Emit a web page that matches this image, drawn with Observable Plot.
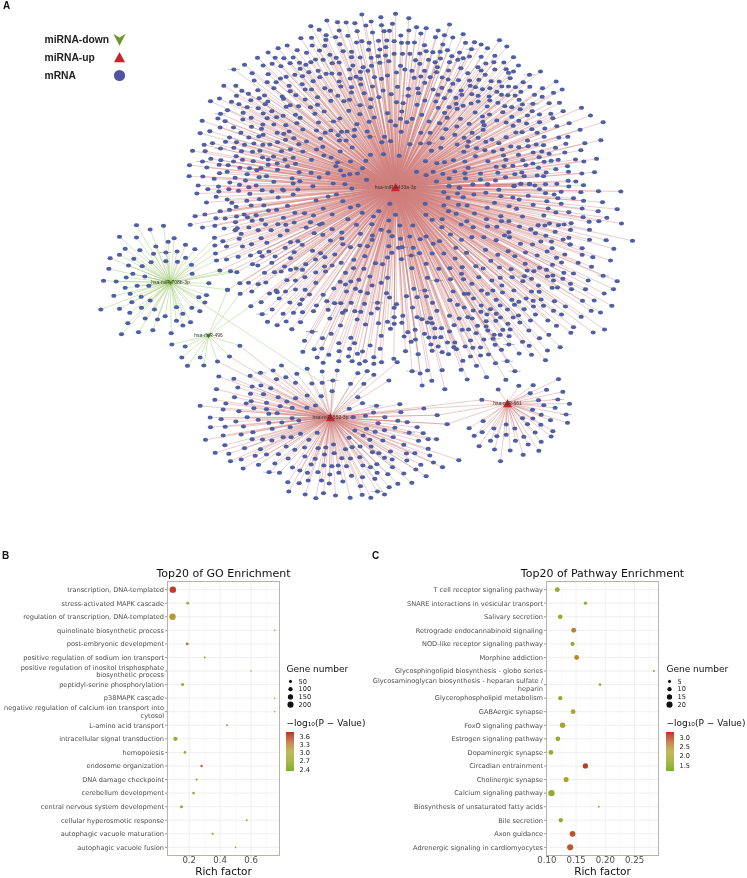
<!DOCTYPE html>
<html><head><meta charset="utf-8">
<script src="https://cdn.jsdelivr.net/npm/d3@7"></script>
<script src="https://cdn.jsdelivr.net/npm/@observablehq/plot@0.6"></script>
<style>
html,body{margin:0;padding:0;background:#fff}
#page{position:relative;width:747px;height:878px;overflow:hidden;font-family:"DejaVu Sans",sans-serif;filter:blur(.3px)}
#page svg{position:absolute;background:transparent;overflow:visible}
.tag{position:absolute;font:bold 10px "Liberation Sans",sans-serif;color:#111}
</style></head><body><div id="page">
<div class="tag" style="left:3px;top:0">A</div>
<div class="tag" style="left:2px;top:550px">B</div>
<div class="tag" style="left:372px;top:550px">C</div>
</div>
<script>
// ---------- Network: hubs ----------
const hubNames=["hsa-miR-4433a-3p","hsa-miR-552-3p","hsa-miR-661","hsa-miR-708b-3p","hsa-miR-496"];
const hubX=[395,330,507,170,208];
const hubY=[187,417,403,282,335];
const hubKind=["up","up","up","down","down"];
// mRNA node positions in crops (crop origin + 1/3 of crop reading)
const nwOrigin=[180,10];
const nodesNW=[544,12,645,10,601,20,439,30,471,35,497,36,523,38,572,33,636,40,391,47,556,45,603,44,416,58,476,60,530,62,576,66,611,62,627,61,502,76,437,74,436,88,393,82,361,83,465,80,544,92,566,97,594,91,619,90,641,92,528,96,478,101,433,106,395,105,320,105,293,113,350,119,378,127,417,120,488,122,448,133,513,124,564,118,616,110,598,117,641,130,263,126,231,142,284,142,310,143,338,141,405,147,428,148,467,142,513,140,539,141,572,142,593,137,615,135,275,160,192,163,248,165,301,167,329,158,357,157,376,163,391,155,455,158,476,156,517,165,548,170,573,166,598,157,625,152,160,177,215,188,263,191,343,193,359,175,385,185,413,181,437,190,454,189,477,190,507,177,540,184,562,181,582,200,603,205,621,195,648,186,527,199,221,210,260,215,300,204,317,199,366,197,398,212,418,200,476,213,509,204,540,205,576,228,130,226,166,226,287,215,326,226,365,221,433,233,481,228,513,230,541,222,608,240,651,229,184,241,232,239,280,233,329,242,374,237,393,237,450,241,551,248,632,251,204,250,168,256,117,264,252,255,305,258,346,254,411,260,472,256,513,246,90,272,153,274,211,269,236,263,262,273,309,265,374,267,451,271,490,272,507,268,571,266,595,260,175,281,254,281,329,284,411,283,539,284,648,275,200,290,141,299,233,293,274,302,317,289,354,287,390,290,431,303,505,301,570,290,621,308,120,310,188,307,248,309,345,313,403,310,538,311,65,331,112,324,134,332,187,327,212,322,260,323,288,320,308,316,359,322,478,324,581,321,414,336,459,333,566,334,630,332,645,345,247,342,280,342,316,344,349,338,529,341,119,351,159,351,213,349,243,355,367,357,408,360,451,360,483,364,500,363,522,358,560,363,88,362,59,368,181,367,290,367,326,363,434,367,248,373,235,378,205,381,147,381,310,370,340,383,473,374,521,377,568,379,612,379,168,395,135,394,96,398,71,403,291,395,315,388,420,384,477,390,497,390,604,395,630,392,220,399,192,403,247,403,268,402,355,401,378,393,160,412,120,414,36,421,74,422,183,422,216,424,238,421,303,422,330,416,367,423,408,417,427,409,515,411,279,438,167,437,91,445,121,449,186,448,246,441,313,448,338,442,393,448,430,435,452,441,479,423,570,433,609,431,656,436,66,453,159,453,218,452,263,447,345,460,510,453,556,451,27,464,116,463,143,464,290,459,471,456,79,471,178,472,207,473,241,473,263,463,321,467,466,467,546,473,117,488,140,484,229,479,291,478,356,485,392,487,442,488,480,480,200,491,26,497,67,498,164,502,236,500,258,497,335,504,416,501,490,495,508,491,531,489,101,505,195,510,358,512,148,516,280,514,338,519,458,519,493,521,558,508,397,527,53,525,114,528,177,523,227,525,205,530,82,536,145,536,306,537,352,537,514,534];
const neOrigin=[390,10];
const nodesNE=[55,23,177,42,78,50,107,53,143,60,218,71,55,60,162,74,31,75,91,69,135,80,187,81,327,89,349,108,33,97,52,97,72,96,102,104,157,102,252,95,272,102,225,97,291,113,107,122,127,125,243,116,171,119,149,124,207,126,36,130,58,130,88,129,184,137,237,138,272,139,313,136,369,140,218,143,150,144,75,149,114,148,202,148,134,155,88,160,177,155,286,159,310,155,340,156,384,165,30,166,43,177,64,181,102,181,141,170,174,180,211,173,262,170,313,177,347,176,369,183,272,180,232,188,284,193,354,187,417,193,450,183,359,203,91,198,119,200,138,185,71,202,103,217,155,201,204,209,237,210,265,208,302,212,326,213,173,207,398,215,497,213,187,220,239,226,255,230,418,229,456,233,515,237,54,235,82,234,128,237,154,232,178,241,212,240,276,236,298,233,334,228,354,228,375,230,391,244,489,247,142,253,84,248,214,253,244,251,263,256,296,258,319,244,333,253,352,254,432,253,455,259,53,256,162,263,103,270,196,262,38,278,80,283,136,273,197,280,242,279,263,273,322,277,298,270,374,255,386,268,396,282,427,280,476,278,507,277,143,292,176,290,218,286,290,288,343,287,364,290,573,292,200,295,34,303,94,313,162,307,254,306,297,312,337,305,389,296,425,302,447,312,518,302,481,310,487,323,411,315,600,315,170,322,210,325,276,318,319,330,364,319,30,325,65,325,116,333,49,335,147,338,236,340,277,334,281,344,347,336,385,331,447,335,408,339,536,338,638,335,166,356,199,348,278,358,368,346,499,347,463,354,424,356,569,358,32,364,91,367,119,367,245,367,376,366,395,365,440,367,221,382,263,382,155,383,193,373,347,380,461,379,505,381,532,379,631,389,234,393,304,387,286,394,411,390,583,398,58,401,90,399,116,398,200,402,325,398,526,400,437,402,459,404,151,412,231,408,258,413,361,408,385,410,413,407,495,412,571,419,123,421,220,424,283,419,309,423,335,417,428,426,454,423,476,430,523,426,255,437,339,435,384,433,446,440,618,445,105,452,139,458,162,455,189,449,223,453,292,452,346,448,397,449,555,447,580,453,482,451,503,448,461,454,317,469,341,467,367,466,406,464,427,459,531,467,233,472,78,484,128,484,193,483,223,488,270,489,322,487,444,472,496,476,107,494,157,490,373,491,401,497,394,486,440,495,459,497,467,486,534,484,574,489,612,485,270,507,176,504,225,504,315,510,345,500,138,513,533,511,556,513,499,520,176,527,207,532,247,522,291,522,371,526,391,520,417,521,433,525,465,521,579,524,535,528];
const swOrigin=[170,185];
const nodesSW=[79,24,145,18,204,16,275,14,304,18,339,15,658,55,498,27,368,27,238,25,137,34,473,33,517,47,267,41,323,36,170,42,229,46,437,45,108,51,184,52,197,64,242,60,280,60,351,61,540,66,563,60,149,77,177,73,294,75,318,73,458,69,373,82,402,83,575,82,625,77,74,92,103,87,198,93,221,87,231,95,257,89,339,97,429,90,485,87,609,93,675,88,136,98,164,99,245,106,273,103,371,111,420,110,532,101,655,105,59,118,96,126,133,121,195,110,200,128,235,126,285,117,322,116,346,118,407,126,447,117,455,114,604,116,161,129,194,134,263,134,302,134,350,135,558,118,485,131,632,133,655,138,212,145,329,150,431,143,457,148,514,141,570,145,606,150,665,152,132,157,157,167,206,160,272,158,243,176,289,172,360,170,382,167,395,178,480,165,514,159,605,163,133,180,168,183,216,183,267,200,344,187,371,200,426,196,517,176,540,185,568,180,591,182,655,182,684,187,135,204,295,198,450,203,493,207,664,202,203,214,240,210,275,212,314,213,360,218,463,215,550,223,583,212,651,216,138,225,168,222,304,232,435,222,406,236,512,232,615,233,636,236,246,236,262,240,342,243,377,249,485,240,462,243,525,262,148,255,180,257,199,260,282,262,312,260,332,258,360,253,396,253,436,261,465,258,580,250,549,248,403,275,598,273,651,277,565,283,541,288,349,284,375,285,436,292,509,289,525,297,632,292,208,293,234,292,286,291,263,296,605,300,171,313,209,325,244,318,297,324,317,315,345,318,375,312,404,313,490,309,555,310,570,318,591,323,528,318,648,323,320,320,417,327,458,328,657,336,326,339,395,342,272,350,358,351,388,356,469,347,492,353,511,353,542,352,582,355,621,352,678,356,241,362,438,360,305,372,621,369,473,373,525,375,553,377,571,379,671,367,275,386,338,385,369,382,396,380,429,377,516,382,602,384,478,399,291,409,347,408,390,410,320,419,585,417,560,402,510,420,624,413,651,409,671,395,671,415,364,431,425,439,660,430,482,445,541,457,632,451,456,458,402,466,505,473,552,473,599,480,629,490,431,491,454,489,397,499,506,497,537,490,576,498,440,516,475,508,505,527,534,513,561,505,584,527,610,515,458,532,545,527,567,535,610,535,633,530,670,520];
const eastOrigin=[350,0];
const nodesEast=[811,573,744,572,691,575,632,574,585,578,567,566,537,550,511,550,490,557,445,568,411,551,367,552,326,561,295,557,280,575,321,579,406,577,370,582,293,592,338,590,432,607,451,587,487,591,506,597,533,586,611,582,622,593,669,593,699,601,756,605,800,626,589,602,548,613,476,617,498,625,410,622,350,615,324,613,280,615,224,610,593,624,632,610,655,635,695,624,743,632,769,652,616,636,580,645,516,648,451,647,372,639,317,640,294,632,226,643,245,658,275,656,349,662,408,656,453,662,475,662,597,669,563,674,641,672,662,668,698,650,716,664,745,662,813,669,187,675,148,675,332,672,368,680,411,678,439,679,507,678,541,686,583,675,624,674,274,680,660,688,717,688];
const seOrigin=[390,230];
const nodesSE=[726,31,647,29,670,55,597,28,575,53,660,90,607,80,575,73,563,97,603,109,538,42,523,72,513,96,549,129,520,127,638,136,680,152,593,150,540,160,517,145,669,176,641,189,585,176,543,176,501,171,485,172,489,150,487,135,471,138,486,103,468,118,447,112,440,75,498,82,470,63,485,53,483,33,451,33,466,16,494,4,518,27,535,22,540,42,435,8,426,42,405,66,390,40,355,5,342,15,317,29,357,20,280,20,244,20,213,28,180,12,147,32,128,40,107,18,89,26,58,18,30,25,35,50,68,52,87,68,62,75,33,86,196,52,160,69,125,69,285,58,228,67,194,84,353,62,322,73,373,77,301,91,404,100,107,100,145,115,178,113,64,113,215,110,256,107,278,114,327,111,362,116,410,120,430,122,213,130,265,140,402,137,365,140,329,142,423,145,304,150,180,146,139,150,219,146,111,142,244,160,397,152,444,165,334,165,273,180,307,180,291,190,336,186,370,180,423,183,446,184,188,183,233,190,103,180,70,175,48,197,249,204,221,190,80,200,108,198,407,204,385,214,428,211,452,207,364,208,317,208,178,209,126,217,201,223,272,225,329,225,372,223,492,212,459,226,429,228,576,211,611,210,664,226,525,228,221,231,66,231,351,237,401,236,300,236,248,240,271,244,139,241,489,241,602,241,630,246,513,252,435,252,384,255,368,261,177,256,206,264,289,252,317,250,232,260,245,264,37,256,80,260,94,266,120,263,572,259,472,270,420,270,287,272,316,271,330,261,111,276,34,277,125,278,191,284,261,286,352,280,388,276,234,297,287,288,498,286,549,290,133,294,153,293,74,298,52,305,177,303,215,298,257,308,292,300,337,298,359,297,311,313,415,300,329,313,356,317,642,297,541,307,608,306,475,313,41,318,102,310,115,321,133,321,151,320,193,336,171,336,75,327,62,334,240,330,280,327,308,325,447,323,396,334,121,342,143,348,190,350,224,348,247,352,270,351,314,343,355,342,416,346,509,350,198,356,155,365,125,361,45,362,83,371,174,371,240,378,270,375,294,372,333,358,386,369,423,373,471,360,465,389,350,392,217,391,315,398,258,406,212,418,155,419,111,420,65,422,89,429,373,422,124,451,95,465,163,476,230,447,288,440,346,448];
const hub3Origin=[390,230];
const nodesHub3=[323,477,274,508,385,466,428,464,504,446,468,478,419,488,517,484,444,509,502,507,460,524,537,520,494,532,426,538,527,552,452,553,396,563,427,564,480,569,278,572,531,577,411,581,451,583,347,582,373,594,236,593,310,594,487,602,275,605,434,606,251,616,319,617,347,613,400,619,482,618,300,631,375,631,452,634,266,647,413,642,312,657,359,660,445,661,398,673,330,692];
const lowOrigin=[80,220];
const nodesHub2=[603,435,540,457,415,468,460,475,509,466,578,450,616,470,649,460,680,445,725,453,770,450,832,458,860,452,880,463,925,480,950,425,588,476,645,487,472,501,515,498,541,495,571,503,694,489,757,480,810,490,850,490,725,487,408,506,403,538,462,530,510,520,549,521,593,530,645,533,680,525,722,527,755,512,832,530,512,542,436,549,497,549,558,547,619,543,359,556,428,567,475,572,520,563,558,566,599,557,635,562,679,562,705,555,806,565,846,548,888,556,958,551,1030,564,500,590,389,591,422,596,533,598,565,580,590,578,635,593,655,600,466,603,818,590,855,586,879,576,913,590,961,575,1070,584,565,607,604,606,390,620,434,619,489,618,575,625,629,620,893,608,952,601,980,605,1100,611,517,635,428,645,482,642,660,640,710,637,823,630,858,625,884,634,912,629,943,622,1010,620,986,637,1028,638,375,658,515,656,546,657,574,660,608,650,632,650,685,658,806,652,848,645,868,658,907,660,938,650,970,673,1014,661,1043,656,1068,656,433,674,617,678,492,683,540,686,643,688,672,681,713,683,736,681,759,672,795,686,815,680,839,678,872,678,895,698,930,693,1043,685,404,697,445,700,558,702,594,701,673,708,732,702,761,698,784,713,810,714,838,710,876,695,978,699,1003,698,1048,705,1135,719,450,722,482,717,524,706,623,714,704,715,754,737,912,712,935,717,979,720,1059,726,534,733,583,729,692,732,730,735,773,735,798,737,847,735,870,740,889,731,936,740,1021,733,1086,740,488,744,636,741,658,750,712,755,1006,747,566,755,597,757,681,757,748,762,775,757,813,766,846,770,890,757,922,761,970,759,1037,767,622,785,656,788,683,780,723,780,746,789,787,783,883,775,994,787,952,790,840,797,926,800,625,813,891,813,674,822,729,818,765,825,845,823,912,822,706,833,809,832,871,832,478,376,447,408,411,423];
const nodesGreen=[168,14,209,27,249,16,117,49,168,51,281,53,263,64,226,78,315,73,134,85,178,89,290,93,343,86,117,103,219,100,256,96,89,113,160,115,212,125,256,122,291,124,315,112,144,135,185,137,333,133,85,145,157,160,193,168,137,171,335,160,69,181,107,183,170,196,205,196,134,202,385,188,441,208,149,220,100,226,182,229,355,230,378,224,209,240,154,245,373,246,61,267,117,265,183,262,222,267,288,260,334,262,148,277,307,280,358,272,254,287,194,294,231,297,288,301,330,305,142,308,307,315,217,329,174,335,272,338,123,341];
const nodes496=[274,372,314,378,304,411,359,411,321,436,370,435];
// nodes that carry a second link (node already drawn above)
const greenExtra=[403,52,405,75,405,98,408,120,420,150,450,153,468,155,725,487];
const extra496=[441,208,478,220,511,257,478,376,447,408,411,423];
const hub3Extra=[1030,564,1070,584,1100,611,1205,538];
// mRNA nodes whose tiny name label reads as a dark dash, by crop
const dashNW=[160,177,465,80,200,290,120,310,539,284,120,414,66,453,568,379,365,423,459,333,596,157,470,456];
const dashNE=[417,193,243,116,427,280,220,424,235,472,116,398,50,256,163,356];
const dashSE=[35,50,62,75,103,180,350,392,355,342,311,325,373,422,65,422,638,136,400,137,140,150,527,552,502,507];
const dashLow=[694,333,540,457,757,480,255,96,885,556,566,755,890,813,986,637];
const dashSW=[405,126,447,117,503,353,621,352,425,439,275,386];

// ---------- Panel B ----------
const goTerms=["transcription, DNA-templated","stress-activated MAPK cascade","regulation of transcription, DNA-templated","quinolinate biosynthetic process","post-embryonic development","positive regulation of sodium ion transport","positive regulation of inositol trisphosphate\nbiosynthetic process","peptidyl-serine phosphorylation","p38MAPK cascade","negative regulation of calcium ion transport into\ncytosol","L-amino acid transport","intracellular signal transduction","hemopoiesis","endosome organization","DNA damage checkpoint","cerebellum development","central nervous system development","cellular hyperosmotic response","autophagic vacuole maturation","autophagic vacuole fusion"];
const goRich=[0.094,0.19,0.092,0.753,0.187,0.30,0.60,0.157,0.753,0.753,0.444,0.111,0.172,0.28,0.248,0.228,0.15,0.572,0.351,0.50];
const goGenes=[225,40,220,14,40,25,14,50,12,12,22,95,40,32,28,35,50,18,25,18];
const goLogP=[3.65,2.45,3.05,2.5,3.35,2.45,2.45,2.45,2.5,2.5,2.45,2.42,2.5,3.35,2.5,2.5,2.45,2.7,2.7,2.6];
// ---------- Panel C ----------
const kegg=["T cell receptor signaling pathway","SNARE interactions in vesicular transport","Salivary secretion","Retrograde endocannabinoid signaling","NOD-like receptor signaling pathway","Morphine addiction","Glycosphingolipid biosynthesis - globo series","Glycosaminoglycan biosynthesis - heparan sulfate /\nheparin","Glycerophospholipid metabolism","GABAergic synapse","FoxO signaling pathway","Estrogen signaling pathway","Dopaminergic synapse","Circadian entrainment","Cholinergic synapse","Calcium signaling pathway","Biosynthesis of unsaturated fatty acids","Bile secretion","Axon guidance","Adrenergic signaling in cardiomyocytes"];
const keggRich=[0.118,0.166,0.123,0.146,0.144,0.151,0.283,0.191,0.123,0.145,0.127,0.119,0.107,0.166,0.133,0.108,0.189,0.124,0.144,0.14];
const keggGenes=[13,6,11,13,9,13,2,4,10,12,16,12,12,15,14,22,2,10,18,20];
const keggLogP=[1.6,1.4,1.5,2.5,1.5,2.4,1.6,1.4,1.5,2.1,2.1,1.5,1.3,3.1,2.2,1.5,1.4,1.4,2.9,2.85];
const rampColors=["#84b22e","#b3a02d","#c12a2a"];
const legendKinds=["miRNA-down","miRNA-up","mRNA"];

const font='"DejaVu Sans",sans-serif';
const page=document.getElementById("page");
function place(svg,left,top){svg.style.left=left+"px";svg.style.top=top+"px";page.appendChild(svg);return svg;}
function pts(flat,o){const r=[];for(let i=0;i<flat.length;i+=2)r.push({x:o[0]+flat[i]/3,y:o[1]+flat[i+1]/3});return r;}
function links(list,h){return list.map(p=>({x1:hubX[h],y1:hubY[h],x2:p.x,y2:p.y}));}

// symbols
const ell={draw(c,s){const r=Math.sqrt(s/Math.PI),a=r*1.25,b=r*0.95;c.moveTo(-a,0);c.lineTo(-a*.7,-b*.8);c.lineTo(0,-b);c.lineTo(a*.7,-b*.8);c.lineTo(a,0);c.lineTo(a*.7,b*.8);c.lineTo(0,b);c.lineTo(-a*.7,b*.8);c.closePath();}};
const triUp={draw(c,s){const r=Math.sqrt(s/Math.PI);c.moveTo(0,-r);c.lineTo(r,r*.85);c.lineTo(-r,r*.85);c.closePath();}};
const chevron={draw(c,s){const r=Math.sqrt(s/Math.PI);c.moveTo(-r,-r*.9);c.lineTo(0,-r*.3);c.lineTo(r,-r*.9);c.lineTo(0,r);c.closePath();}};
const dash={draw(c,s){const r=Math.sqrt(s/Math.PI);c.moveTo(-r,0);c.lineTo(r,0);}};

// ---------- network ----------
const n1=[...pts(nodesNW,nwOrigin),...pts(nodesNE,neOrigin),...pts(nodesSW,swOrigin),...pts(nodesEast,eastOrigin),...pts(nodesSE,seOrigin)];
const n2=pts(nodesHub2,lowOrigin),n3=pts(nodesHub3,hub3Origin),n4=pts(nodesGreen,lowOrigin),n5=pts(nodes496,lowOrigin);
const pinkLinks=[...links(n1,0),...links(n2,1),...links(n3,2),...links(pts(hub3Extra,lowOrigin),2),...links(pts(hub3Extra,lowOrigin),1)];
const greenLinks=[...links(n4,3),...links(pts(greenExtra,lowOrigin),3),...links(n5,4),...links(pts(extra496,lowOrigin),4)];
const allNodes=[...n1,...n2,...n3,...n4,...n5];
const dashes=[...pts(dashNW,nwOrigin),...pts(dashNE,neOrigin),...pts(dashSE,seOrigin),...pts(dashLow,lowOrigin),...pts(dashSW,swOrigin)];
const hubs=hubNames.map((name,i)=>({name,x:hubX[i],y:hubY[i],kind:hubKind[i]}));
place(Plot.plot({width:747,height:545,margin:0,style:{background:"transparent"},
  x:{domain:[0,747],axis:null},y:{domain:[545,0],axis:null},
  marks:[
    Plot.link(pinkLinks,{x1:"x1",y1:"y1",x2:"x2",y2:"y2",stroke:"#cf7f7c",strokeOpacity:.5,strokeWidth:.8}),
    Plot.link(greenLinks,{x1:"x1",y1:"y1",x2:"x2",y2:"y2",stroke:"#a5cc7a",strokeOpacity:.8,strokeWidth:.6}),
    Plot.dot(dashes,{x:"x",y:"y",r:6,symbol:dash,fill:"none",stroke:"#555",strokeWidth:.5,strokeOpacity:.7}),
    Plot.dot(allNodes,{x:"x",y:"y",r:2.1,symbol:ell,fill:"#4f5fa3",stroke:"none"}),
    Plot.dot(hubs.filter(d=>d.kind=="up"),{x:"x",y:"y",r:4.5,symbol:triUp,fill:"#c1272d",stroke:"none"}),
    Plot.dot(hubs.filter(d=>d.kind=="down"),{x:"x",y:"y",r:3.2,symbol:chevron,fill:"#5f9a2a",stroke:"none"}),
    Plot.text(hubs,{x:"x",y:"y",text:"name",fontSize:5,fill:"#333",fontFamily:"Liberation Sans"})
  ]}),0,0);

// network legend
const kindSymbol={"miRNA-down":chevron,"miRNA-up":triUp,"mRNA":"circle"};
const kindFill={"miRNA-down":"#6d9a2f","miRNA-up":"#c1272d","mRNA":"#50559f"};
const kindR={"miRNA-down":6.3,"miRNA-up":5.5,"mRNA":5.6};
place(Plot.plot({width:82,height:54,margin:0,style:{background:"transparent"},
  x:{axis:null},y:{type:"point",round:false,domain:legendKinds,axis:null,padding:.5},symbol:{type:"identity"},
  marks:legendKinds.map(k=>Plot.dot([k],{y:d=>d,frameAnchor:"right",dx:-7,r:kindR[k],symbol:kindSymbol[k],fill:kindFill[k],stroke:"none"})).concat([
    Plot.text(legendKinds,{y:d=>d,frameAnchor:"left",textAnchor:"start",text:d=>d,fontSize:10.3,fontWeight:"bold",fontFamily:"Liberation Sans",fill:"#222"})
  ])}),44,30);

// ---------- dot panels ----------
function panel(o){
  const data=o.terms.map((t,i)=>({t,x:o.rich[i],g:o.genes[i],p:o.logp[i]}));
  const color={type:"linear",domain:[o.cLo,(o.cLo+o.cHi)/2,o.cHi],range:rampColors};
  const r={type:"sqrt",domain:[0,o.rMax],range:[0,o.rR]};
  const width=o.right+10,height=878-o.top;
  const ML=o.left, MR=width-o.right, MT=581-o.top, MB=878-855;
  place(Plot.plot({width,height,marginLeft:ML,marginRight:MR,marginTop:MT,marginBottom:MB,style:{background:"transparent",fontFamily:font},
    x:{domain:o.xDomain,axis:null},y:{type:"point",round:false,domain:o.terms,padding:.6,axis:null},color,r,
    marks:[
      Plot.gridX(o.xMinor,{stroke:"#f2f2f2",strokeOpacity:1,strokeWidth:.5}),
      Plot.gridX(o.xTicks,{stroke:"#e9e9e9",strokeOpacity:1,strokeWidth:.7}),
      Plot.gridY(o.terms,{stroke:"#e9e9e9",strokeOpacity:1,strokeWidth:.7}),
      Plot.axisY({tickSize:2,tickPadding:1.5,fontSize:6.6,lineHeight:1.1,fill:"#4d4d4d",stroke:"#555",strokeWidth:.6,label:null,tickFormat:d=>d,textOverflow:null}),
      Plot.axisX({ticks:o.xTicks,tickSize:1.5,tickPadding:0,fontSize:8.6,fill:"#4d4d4d",stroke:"#555",strokeWidth:.6,label:null,tickFormat:o.xFmt}),
      Plot.dot(data,{x:"x",y:"t",r:"g",fill:"p",stroke:"none"}),
      Plot.frame({stroke:"#b5b5ae",strokeWidth:1}),
      Plot.text([o.title],{frameAnchor:"top",lineAnchor:"middle",dy:-8,text:d=>d,fontSize:11,fill:"#111",textAnchor:"middle"}),
      Plot.text(["Rich factor"],{frameAnchor:"bottom",lineAnchor:"middle",dy:16,text:d=>d,fontSize:10.5,fill:"#111",textAnchor:"middle"})
    ]}),0,o.top);
  // Gene number legend
  place(Plot.plot({width:50,height:44,marginLeft:0,marginRight:0,marginTop:13,marginBottom:0,style:{background:"transparent",fontFamily:font},
    x:{axis:null},y:{type:"point",round:false,domain:o.rLegend,padding:.5,axis:null},r,
    marks:[
      Plot.dot(o.rLegend,{y:d=>d,frameAnchor:"left",dx:o.dotDx,r:d=>d,fill:"#111",stroke:"none"}),
      Plot.text(o.rLegend,{y:d=>d,frameAnchor:"left",dx:o.dotDx+8,text:d=>d,textAnchor:"start",fontSize:6.6,fill:"#222"}),
      Plot.text(["Gene number"],{frameAnchor:"top-left",lineAnchor:"middle",dy:-8,text:d=>d,fontSize:9,textAnchor:"start",fill:"#111"})
    ]}),o.legendX,664);
  // colour legend
  const n=40,step=(o.cHi-o.cLo)/n,steps=d3.range(n).map(i=>o.cLo+i*step);
  place(Plot.plot({width:42,height:47,marginLeft:0,marginRight:34,marginTop:4,marginBottom:4,style:{background:"transparent",fontFamily:font},
    x:{domain:[0,1],axis:null},y:{domain:[o.cLo,o.cHi],axis:null},color,
    marks:[
      Plot.rect(steps,{x1:0,x2:1,y1:d=>d,y2:d=>d+step*1.05,fill:d=>d}),
      Plot.axisY({anchor:"right",ticks:o.cTicks,tickSize:0,tickPadding:5,fontSize:6.6,fill:"#222",label:null,tickFormat:d=>d.toFixed(1)}),
      Plot.text(["\u2212log\u2081\u2080(P \u2212 Value)"],{frameAnchor:"top-left",lineAnchor:"middle",dy:-9,text:d=>d,fontSize:9,textAnchor:"start",fill:"#111"})
    ]}),o.legendX,728);
}
panel({terms:goTerms,rich:goRich,genes:goGenes,logp:goLogP,title:"Top20 of GO Enrichment",left:167,right:279,top:545,
  xDomain:[0.0595,0.784],xTicks:[0.2,0.4,0.6],xMinor:[0.1,0.3,0.5,0.7],xFmt:d=>d.toFixed(1),
  cLo:2.33,cHi:3.75,cTicks:[2.4,2.7,3.0,3.3,3.6],rMax:220,rR:3.2,rLegend:[50,100,150,200],legendX:286,dotDx:4});
panel({terms:kegg,rich:keggRich,genes:keggGenes,logp:keggLogP,title:"Top20 of Pathway Enrichment",left:546,right:658,top:545,
  xDomain:[0.0995,0.291],xTicks:[0.10,0.15,0.20,0.25],xMinor:[0.125,0.175,0.225,0.275],xFmt:d=>d.toFixed(2),
  cLo:1.2,cHi:3.26,cTicks:[1.5,2.0,2.5,3.0],rMax:22,rR:3.2,rLegend:[5,10,15,20],legendX:666,dotDx:3});
</script></body></html>
